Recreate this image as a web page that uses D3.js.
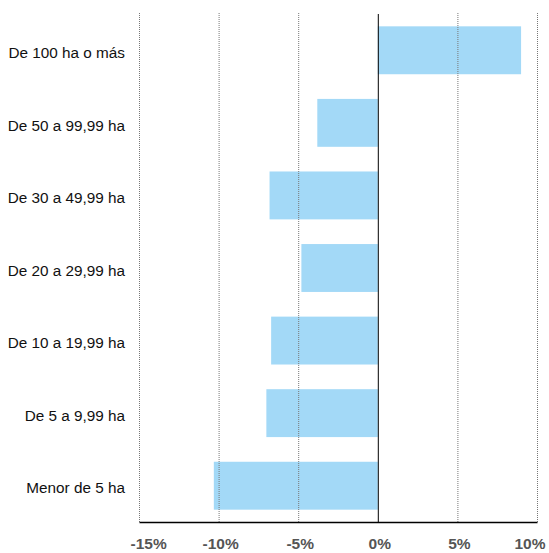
<!DOCTYPE html>
<html><head><meta charset="utf-8">
<script src="https://cdn.jsdelivr.net/npm/d3@7"></script>
<style>body{margin:0;background:#fff}svg{display:block}</style>
</head><body>
<svg id="c" width="549" height="553"></svg>
<script>
const categories = ["De 100 ha o más","De 50 a 99,99 ha","De 30 a 49,99 ha","De 20 a 29,99 ha","De 10 a 19,99 ha","De 5 a 9,99 ha","Menor de 5 ha"];
const values = [9.0, -3.8, -6.8, -4.8, -6.7, -7.0, -10.3];
const tickValues = [-15,-10,-5,0,5,10];
const tickLabels = ["-15%","-10%","-5%","0%","5%","10%"];

const svg = d3.select("#c");
const m = {top:14, right:12, bottom:31, left:139};
const W = 549, H = 553;
const x = d3.scaleLinear().domain([-15,10]).range([m.left, W - m.right]);
const y = d3.scaleBand().domain(categories).range([m.top, H - m.bottom]).paddingInner(0.34).paddingOuter(0.17);

svg.append("g").selectAll("rect").data(values).join("rect")
  .attr("x", d => x(Math.min(0,d)))
  .attr("width", d => Math.abs(x(d) - x(0)))
  .attr("y", (d,i) => y(categories[i]))
  .attr("height", y.bandwidth())
  .attr("fill", "#a3d9f7");

// gridlines
svg.append("g").selectAll("line").data(tickValues.filter(v => v !== 0)).join("line")
  .attr("x1", d => x(d) + 0.5).attr("x2", d => x(d) + 0.5)
  .attr("y1", m.top - 1).attr("y2", H - m.bottom)
  .attr("stroke", "#777").attr("stroke-width", 1).attr("stroke-dasharray", "1,1");

// zero line
svg.append("line").attr("x1", x(0)+0.5).attr("x2", x(0)+0.5)
  .attr("y1", m.top).attr("y2", H - m.bottom)
  .attr("stroke", "#000").attr("stroke-width", 1);

// bottom axis
const xAxis = d3.axisBottom(x).tickValues(tickValues).tickFormat((d,i) => tickLabels[i]).tickSize(0).tickPadding(16);
const ax = svg.append("g").attr("transform", `translate(0,${H - m.bottom})`).call(xAxis);
ax.select(".domain").attr("stroke", "#000").attr("stroke-width", 1.6);
ax.selectAll("text").attr("font-family", "Liberation Sans, Arial, sans-serif")
  .attr("font-size", 15.5).attr("font-weight", "bold").attr("fill", "#555")
  .attr("text-anchor", (d,i) => i === 0 ? "start" : (i === tickValues.length - 1 ? "end" : "middle"))
  .attr("dx", (d,i) => i === 0 ? -9 : (i === tickValues.length - 1 ? 8 : 1.5));

// y labels
const ay = d3.axisLeft(y).tickSize(0).tickPadding(14);
const gy = svg.append("g").attr("transform", `translate(${m.left},0)`).call(ay);
gy.select(".domain").remove();
gy.selectAll("text").attr("font-family", "Liberation Sans, Arial, sans-serif")
  .attr("font-size", 15.3).attr("fill", "#111").attr("dy", "0.5em");
</script>
</body></html>
